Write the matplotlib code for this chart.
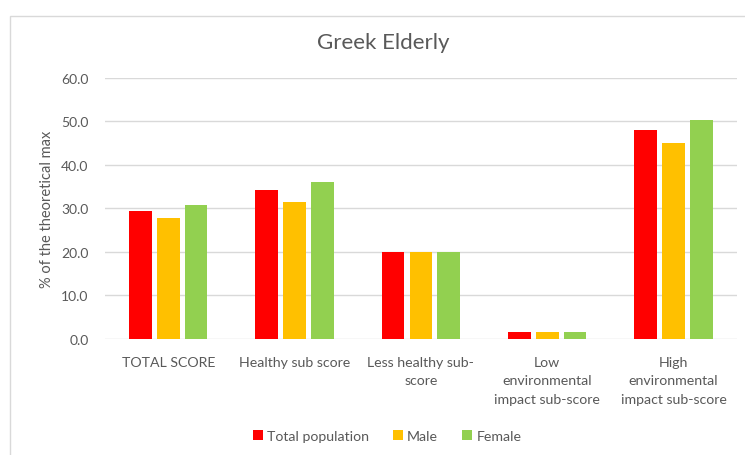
import matplotlib
matplotlib.use("Agg")
import matplotlib.pyplot as plt
from matplotlib.patches import Rectangle
import numpy as np

plt.rcParams['font.family'] = ['Lato', 'DejaVu Sans']

categories = ["TOTAL SCORE", "Healthy sub score", "Less healthy sub-\nscore",
              "Low\nenvironmental\nimpact sub-score", "High\nenvironmental\nimpact sub-score"]
series_names = ["Total population", "Male", "Female"]
total_population = [29.5, 34.2, 20.1, 1.7, 48.0]
male = [27.7, 31.6, 19.9, 1.55, 45.1]
female = [30.9, 36.2, 20.1, 1.55, 50.4]
colors = ["#FF0000", "#FFC000", "#92D050"]
yticks = [0, 10, 20, 30, 40, 50, 60]

text_color = "#595959"
grid_color = "#D9D9D9"

fig = plt.figure(figsize=(7.45, 4.56), dpi=100)
ax = fig.add_axes([0.141, 0.2544, 0.848, 0.5724])

# chart frame
fig.patches.append(Rectangle((10 / 745, -0.01), 1.0, 1 - 17 / 456 + 0.01,
                             transform=fig.transFigure, fill=False,
                             edgecolor=grid_color, linewidth=1.0))

x = np.arange(len(categories))
width = 0.18
offsets = [-0.22, 0.0, 0.22]
for vals, name, col, off in zip([total_population, male, female], series_names, colors, offsets):
    ax.bar(x + off, vals, width, color=col, label=name, zorder=3)

ax.set_xlim(-0.5, len(categories) - 0.5)
ax.set_ylim(0, 60)
ax.set_yticks(yticks)
ax.set_yticklabels([f"{v:.1f}" for v in yticks], color=text_color, fontsize=10)
ax.set_xticks(x)
ax.set_xticklabels(categories, color=text_color, fontsize=10.2, linespacing=1.66, va="top")
ax.tick_params(axis="both", length=0)
ax.tick_params(axis="x", pad=12)
ax.tick_params(axis="y", pad=12)
ax.yaxis.grid(True, color=grid_color, linewidth=1.0, zorder=0)
for s in ["top", "right", "left", "bottom"]:
    ax.spines[s].set_visible(False)
ax.set_axisbelow(True)

ax.set_ylabel("% of the theoretical max", color=text_color, fontsize=10.5, labelpad=5)
fig.text(383 / 745, 1 - 43 / 456, "Greek Elderly", ha="center", va="center",
         fontsize=16, color=text_color)

leg = fig.legend(loc="center", bbox_to_anchor=(387 / 745, 1 - 437 / 456), ncol=3,
                 frameon=False, fontsize=10.2, handlelength=0.7, handleheight=0.7,
                 handletextpad=0.3, columnspacing=1.7)
for t in leg.get_texts():
    t.set_color(text_color)

fig.savefig("out.png", dpi=100)
